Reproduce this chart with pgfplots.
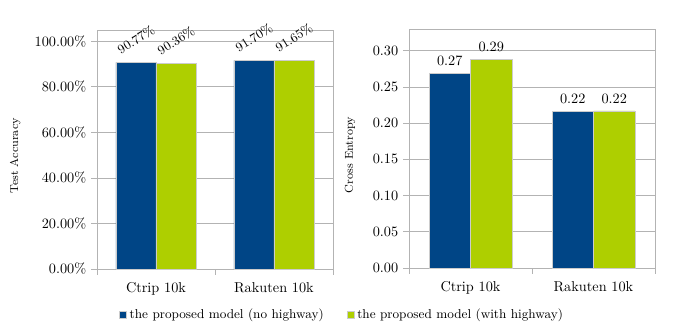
\documentclass[border=0pt]{standalone}
\usepackage{pgfplots}
\pgfplotsset{compat=1.18}
\definecolor{lblue}{HTML}{004586}
\definecolor{lgreen}{HTML}{AECF00}
\definecolor{lgray}{HTML}{B3B3B3}

\pgfplotsset{
  hwbars/.style={
    scale only axis,
    ybar=0pt,
    anchor=south west,
    xmin=-0.5, xmax=1.5,
    xtick={-0.5,0.5,1.5}, xticklabels={},
    extra x ticks={0,1},
    extra x tick labels={Ctrip 10k,Rakuten 10k},
    extra x tick style={major tick length=0pt, xticklabel style={yshift=-6pt}},
    xtick pos=bottom, ytick pos=left,
    tick align=outside,
    major tick length=4pt,
    tick style={lgray, line width=0.6pt},
    axis line style={lgray, line width=0.6pt},
    ymajorgrids,
    grid style={lgray, line width=0.6pt},
    ymin=0,
    every axis plot/.append style={draw=black!20, line width=0.3pt},
    legend image code/.code={\fill[##1] (0pt,-2.6pt) rectangle (5.2pt,2.6pt);},
    ylabel style={font=\footnotesize, anchor=center},
    clip=false,
  }
}

\begin{document}
\begin{tikzpicture}
\path[use as bounding box] (0,0) rectangle (471.8pt,234.5pt);

\begin{axis}[hwbars,
  at={(67.9pt,46.2pt)}, width=165.2pt, height=167.3pt,
  bar width=28pt,
  ymax=105, ytick={0,20,...,100},
  yticklabel={\pgfmathprintnumber[fixed,fixed zerofill,precision=2]{\tick}\%},
  ylabel={Test Accuracy},
  ylabel style={at={(axis description cs:-0.347,0.473)}},
  nodes near coords={\pgfmathprintnumber[fixed,fixed zerofill,precision=2]{\pgfplotspointmeta}\%},
  nodes near coords style={anchor=center, yshift=16pt, rotate=32, font=\small, inner sep=1pt},
  legend columns=2,
  legend style={at={(1.040,-0.192)}, anchor=center, draw=none, fill=none,
    font=\small, inner sep=0pt,
    /tikz/every even column/.append style={column sep=14pt}},
]
\addplot[fill=lblue] coordinates {(0,90.77) (1,91.70)};
\addplot[fill=lgreen] coordinates {(0,90.36) (1,91.65)};
\legend{the proposed model (no highway),the proposed model (with highway)}
\end{axis}

\begin{axis}[hwbars,
  at={(286.3pt,46.9pt)}, width=172.2pt, height=167.3pt,
  bar width=29pt,
  ymax=0.33, ytick={0,0.05,...,0.30},
  yticklabel={\pgfmathprintnumber[fixed,fixed zerofill,precision=2]{\tick}},
  ylabel={Cross Entropy},
  ylabel style={at={(axis description cs:-0.240,0.473)}},
  nodes near coords={\pgfmathprintnumber[fixed,fixed zerofill,precision=2]{\pgfplotspointmeta}},
  nodes near coords style={yshift=2pt},
]
\addplot[fill=lblue] coordinates {(0,0.2690) (1,0.2160)};
\addplot[fill=lgreen] coordinates {(0,0.2880) (1,0.2170)};
\end{axis}
\end{tikzpicture}
\end{document}
